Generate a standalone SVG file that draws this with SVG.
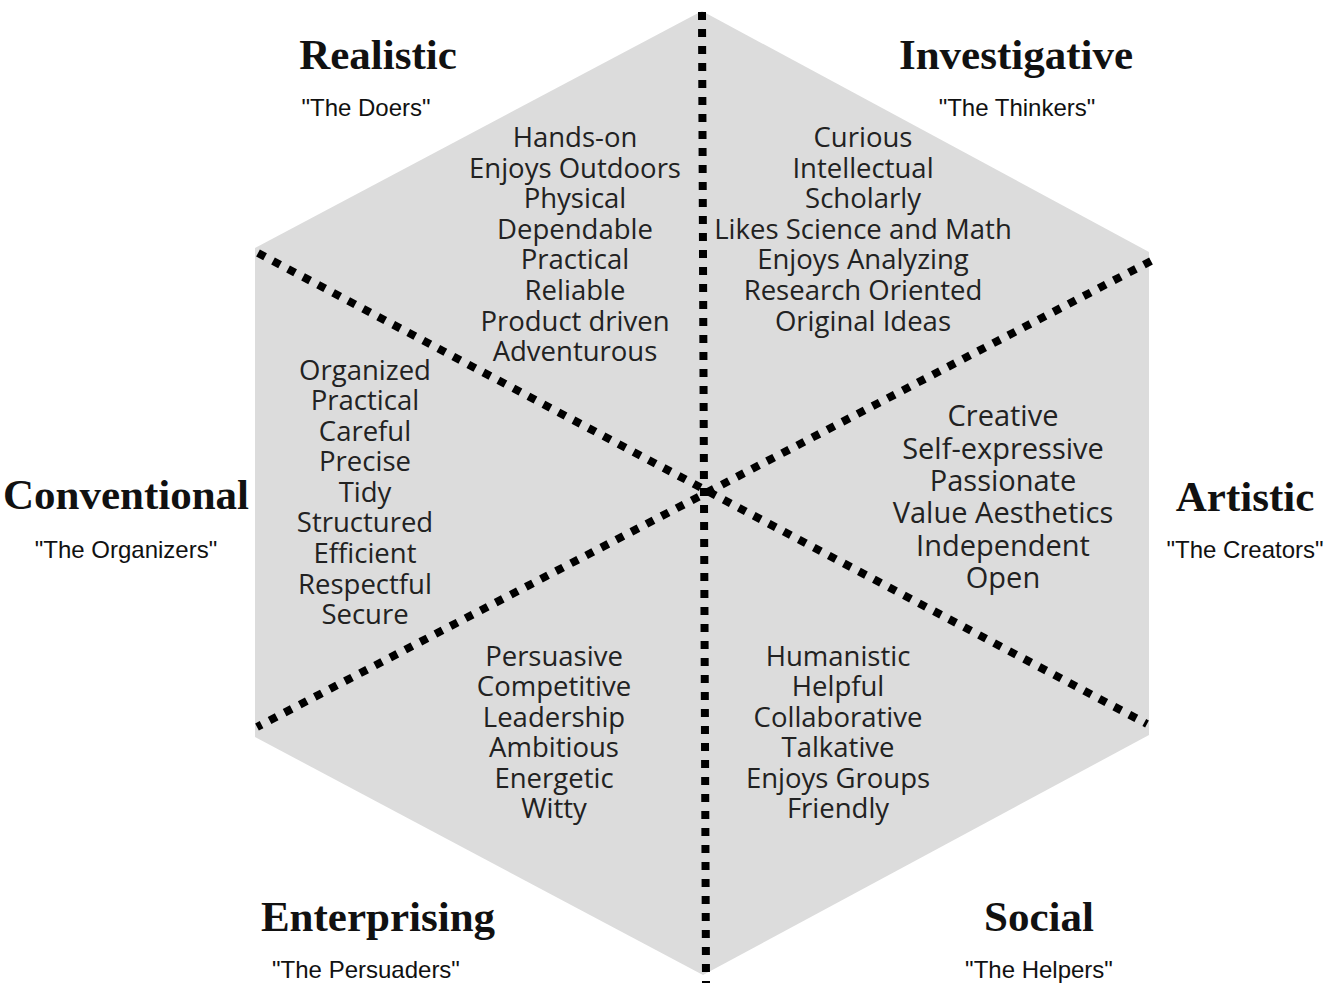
<svg xmlns="http://www.w3.org/2000/svg" width="1335" height="983" viewBox="0 0 1335 983">
<style>
.title{font-family:"Liberation Serif",serif;font-weight:bold;font-size:43px;fill:#111;text-anchor:middle}
.sub{font-family:"Liberation Sans",Arial,sans-serif;font-size:24px;fill:#111;text-anchor:middle}
.body{font-family:"Open Sans","Noto Sans",sans-serif;font-size:27.5px;fill:#222;text-anchor:middle}
.art{font-size:29px}
.dot{stroke:#000;stroke-width:8;stroke-dasharray:8 9;fill:none}
</style>
<rect width="1335" height="983" fill="#fff"/>
<polygon id="hexagon" points="702,11 1149,252 1149,735 703,975 255,737 255,248" fill="#dcdcdc"/>
<g id="connectors">
<line class="dot" x1="702" y1="12" x2="706" y2="983"/>
<line class="dot" x1="258" y1="253" x2="1147" y2="724"/>
<line class="dot" x1="1151" y1="261" x2="257" y2="727"/>
</g>
<g id="realistic">
<text class="title" x="378" y="69">Realistic</text>
<text class="sub" x="366" y="116">"The Doers"</text>
<text class="body"><tspan x="575" y="147">Hands-on</tspan><tspan x="575" y="178">Enjoys Outdoors</tspan><tspan x="575" y="208">Physical</tspan><tspan x="575" y="239">Dependable</tspan><tspan x="575" y="269">Practical</tspan><tspan x="575" y="300">Reliable</tspan><tspan x="575" y="331">Product driven</tspan><tspan x="575" y="361">Adventurous</tspan></text>
</g>
<g id="investigative">
<text class="title" x="1016" y="69">Investigative</text>
<text class="sub" x="1017" y="116">"The Thinkers"</text>
<text class="body"><tspan x="863" y="147">Curious</tspan><tspan x="863" y="178">Intellectual</tspan><tspan x="863" y="208">Scholarly</tspan><tspan x="863" y="239">Likes Science and Math</tspan><tspan x="863" y="269">Enjoys Analyzing</tspan><tspan x="863" y="300">Research Oriented</tspan><tspan x="863" y="331">Original Ideas</tspan></text>
</g>
<g id="conventional">
<text class="title" x="126" y="509">Conventional</text>
<text class="sub" x="126" y="558">"The Organizers"</text>
<text class="body"><tspan x="365" y="380">Organized</tspan><tspan x="365" y="410">Practical</tspan><tspan x="365" y="441">Careful</tspan><tspan x="365" y="471">Precise</tspan><tspan x="365" y="502">Tidy</tspan><tspan x="365" y="532">Structured</tspan><tspan x="365" y="563">Efficient</tspan><tspan x="365" y="594">Respectful</tspan><tspan x="365" y="624">Secure</tspan></text>
</g>
<g id="artistic">
<text class="title" x="1245" y="511">Artistic</text>
<text class="sub" x="1245" y="558">"The Creators"</text>
<text class="body art"><tspan x="1003" y="426">Creative</tspan><tspan x="1003" y="459">Self-expressive</tspan><tspan x="1003" y="491">Passionate</tspan><tspan x="1003" y="523">Value Aesthetics</tspan><tspan x="1003" y="556">Independent</tspan><tspan x="1003" y="588">Open</tspan></text>
</g>
<g id="enterprising">
<text class="title" x="378" y="931">Enterprising</text>
<text class="sub" x="366" y="978">"The Persuaders"</text>
<text class="body"><tspan x="554" y="666">Persuasive</tspan><tspan x="554" y="696">Competitive</tspan><tspan x="554" y="727">Leadership</tspan><tspan x="554" y="757">Ambitious</tspan><tspan x="554" y="788">Energetic</tspan><tspan x="554" y="818">Witty</tspan></text>
</g>
<g id="social">
<text class="title" x="1039" y="931">Social</text>
<text class="sub" x="1039" y="978">"The Helpers"</text>
<text class="body"><tspan x="838" y="666">Humanistic</tspan><tspan x="838" y="696">Helpful</tspan><tspan x="838" y="727">Collaborative</tspan><tspan x="838" y="757">Talkative</tspan><tspan x="838" y="788">Enjoys Groups</tspan><tspan x="838" y="818">Friendly</tspan></text>
</g>
</svg>
